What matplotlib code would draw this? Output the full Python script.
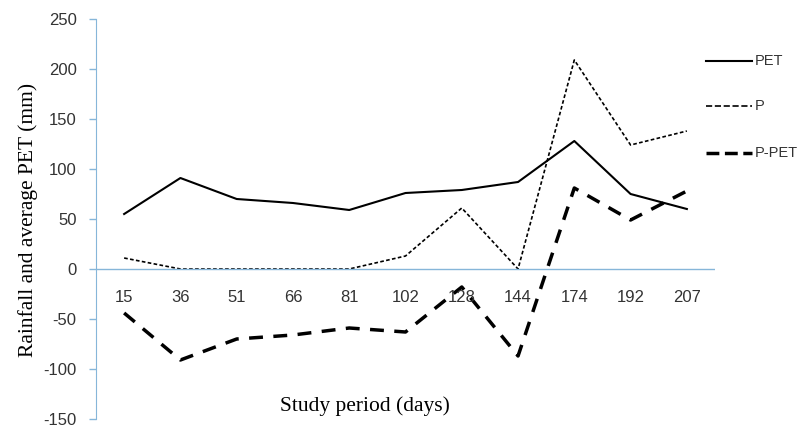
import matplotlib
matplotlib.use("Agg")
import matplotlib.pyplot as plt
from matplotlib.lines import Line2D

days = ["15", "36", "51", "66", "81", "102", "128", "144", "174", "192", "207"]
pet = [55, 91, 70, 66, 59, 76, 79, 87, 128, 75, 60]
p = [11, 0, 0, 0, 0, 13, 61, 0, 209, 124, 138]
p_pet = [-44, -91, -70, -66, -59, -63, -18, -87, 81, 49, 78]
yticks = [-150, -100, -50, 0, 50, 100, 150, 200, 250]

W, H = 798, 429
fig = plt.figure(figsize=(W / 100, H / 100), dpi=100)
ax = fig.add_axes([96 / W, 1 - 419 / H, (715 - 96) / W, (419 - 19) / H])

x = list(range(len(days)))
l1, = ax.plot(x, pet, color="black", lw=1.5, ls="-")
l2, = ax.plot(x, p, color="black", lw=1.2, ls=(0, (2.2, 1.4)))
l3, = ax.plot(x, p_pet, color="black", lw=2.5, ls=(0, (4, 3)))

axcol = "#86B6D9"
tcol = "#333333"
ax.set_xlim(-0.5, len(days) - 0.5)
ax.set_ylim(-150, 250)
ax.set_yticks(yticks)
ax.set_yticklabels([str(v) for v in yticks], fontsize=12, family="Liberation Sans", color=tcol)
ax.tick_params(axis="y", color=axcol, length=5, width=1, pad=9)
ax.set_xticks([])
for s in ["top", "right", "bottom"]:
    ax.spines[s].set_visible(False)
ax.spines["left"].set_color(axcol)
ax.axhline(0, color=axcol, lw=1)

for xi, lab in zip(x, days):
    ax.text(xi, -29, lab, ha="center", va="center", fontsize=12,
            family="Liberation Sans", color=tcol)

fig.text(28 / W, 1 - 220 / H, "Rainfall and average PET (mm)", rotation=90,
         ha="center", va="center", fontsize=15.5, family="Liberation Serif")
fig.text(365 / W, 1 - 406 / H, "Study period (days)", ha="center", va="center",
         fontsize=15.5, family="Liberation Serif")

# legend
entries = [(61, "PET", l1), (106, "P", l2), (153, "P-PET", l3)]
for yy, lab, ln in entries:
    fy = 1 - yy / H
    fig.add_artist(Line2D([706 / W, 752 / W], [fy, fy], color="black",
                          lw=ln.get_linewidth(), ls=ln.get_linestyle(),
                          transform=fig.transFigure))
    fig.text(755 / W, fy, lab, ha="left", va="center", fontsize=10.5,
             family="Liberation Sans", color=tcol)

fig.savefig("out.png", dpi=100)
